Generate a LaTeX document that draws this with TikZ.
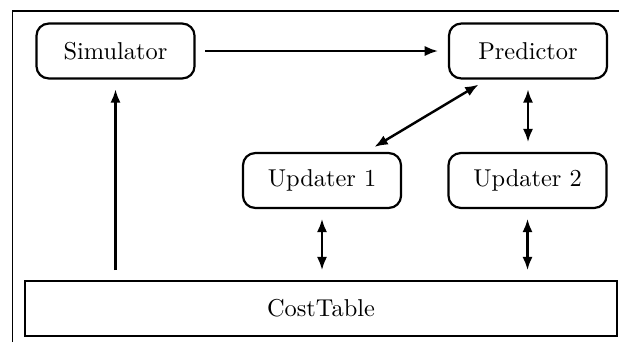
\documentclass[tikz,border=0pt]{standalone}
\usetikzlibrary{arrows.meta,calc}
\begin{document}
\begin{tikzpicture}[x=0.41pt,y=-0.41pt,
  blk/.style={draw,line width=0.9pt,rounded corners=5pt,
    minimum width=64.8pt,minimum height=22.5pt,inner sep=0pt},
  tbl/.style={draw,line width=0.9pt,
    minimum width=242.7pt,minimum height=22.5pt,inner sep=0pt},
  tip/.tip={Latex[length=5.5pt,width=4.2pt]},
  conn/.style={line width=1pt,-tip,shorten >=4pt,shorten <=4pt},
  bconn/.style={line width=1pt,tip-tip,shorten >=4pt,shorten <=4pt}]

\useasboundingbox (0,0) rectangle (619,342);
% partial outer frame
\draw[line width=0.45pt] (12.5,342) -- (12.5,11) -- (619,11);

% blocks
\node[blk] (sim)  at (115.5,51)  {Simulator};
\node[blk] (pred) at (528,51)    {Predictor};
\node[blk] (u1)   at (322,180.5) {Updater 1};
\node[blk] (u2)   at (527.5,180.5) {Updater 2};
\node[tbl] (cost) at (321,308.5) {CostTable};

% connectors
\draw[conn] (sim) -- (pred);
\draw[conn] (sim.south |- cost.north) -- (sim.south);
\draw[bconn] (pred.south) -- (pred.south |- u2.north);
\draw[bconn] ($(u1.north)+(44,0)$) -- ($(pred.south)+(-41,0)$);
\draw[bconn] (u1.south) -- (u1.south |- cost.north);
\draw[bconn] (u2.south) -- (u2.south |- cost.north);
\end{tikzpicture}
\end{document}
